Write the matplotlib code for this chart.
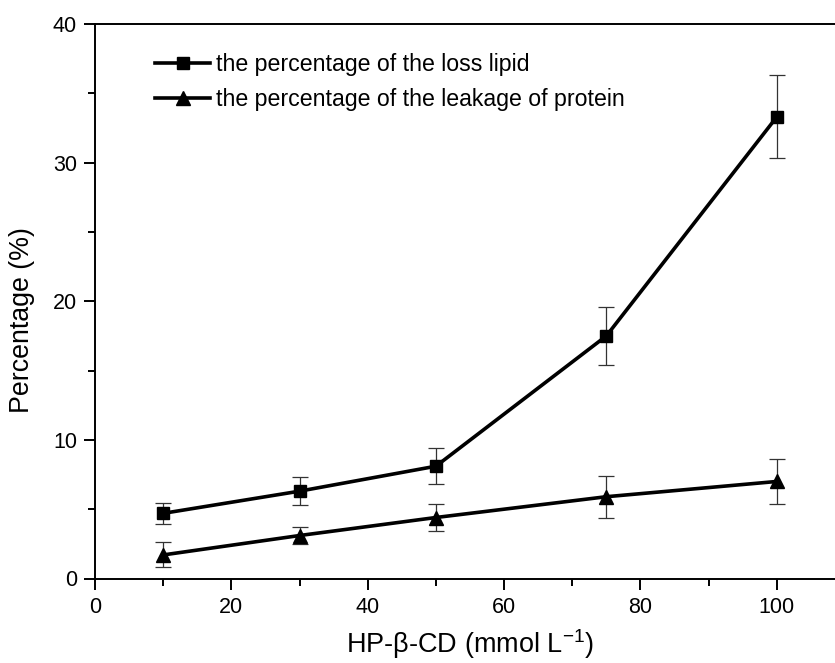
import matplotlib
matplotlib.use("Agg")
import matplotlib.pyplot as plt
from matplotlib.ticker import MultipleLocator

plt.rcParams['font.family'] = ['Liberation Sans', 'DejaVu Sans']
plt.rcParams['mathtext.default'] = 'regular'

conc = [10, 30, 50, 75, 100]
lipid_loss = [4.7, 6.3, 8.1, 17.5, 33.3]
lipid_err = [0.75, 1.0, 1.3, 2.1, 3.0]
protein_leak = [1.7, 3.1, 4.4, 5.9, 7.0]
protein_err = [0.9, 0.6, 0.95, 1.5, 1.6]

labels = ["the percentage of the loss lipid",
          "the percentage of the leakage of protein"]

fig = plt.figure(figsize=(8.35, 6.63), dpi=100)
ax = fig.add_axes([95/835, 1-578.5/663, 750/835, (578.5-24)/663])

for y, e, m, ms, lab in [(lipid_loss, lipid_err, 's', 8.5, labels[0]),
                          (protein_leak, protein_err, '^', 10, labels[1])]:
    ax.errorbar(conc, y, yerr=e, fmt='none', ecolor='#333333', elinewidth=0.9,
                capsize=5.5, capthick=0.9, zorder=2)
    ax.plot(conc, y, color='black', lw=2.6, marker=m, ms=ms, label=lab, zorder=3)

ax.set_xlim(0, 110)
ax.set_ylim(0, 40)
ax.xaxis.set_major_locator(MultipleLocator(20))
ax.xaxis.set_minor_locator(MultipleLocator(10))
ax.yaxis.set_major_locator(MultipleLocator(10))
ax.yaxis.set_minor_locator(MultipleLocator(5))
ax.spines['right'].set_visible(False)
for s in ['left', 'bottom', 'top']:
    ax.spines[s].set_linewidth(1.4)
ax.tick_params(which='major', direction='out', length=8, width=1.4, labelsize=15.5, pad=5)
ax.tick_params(which='minor', direction='out', length=5, width=1.4)
ax.tick_params(top=False, right=False)

ax.set_xlabel("HP-β-CD (mmol L$^{-1}$)", fontsize=19.5, labelpad=7)
ax.set_ylabel("Percentage (%)", fontsize=19.3)
ax.yaxis.set_label_coords(-0.08, 0.466)

leg = ax.legend(loc='upper left', bbox_to_anchor=(0.068, 0.964), frameon=False,
                fontsize=16.7, handlelength=2.35, handletextpad=0.25, labelspacing=0.5,
                borderaxespad=0)

fig.savefig("out.png", dpi=100)
